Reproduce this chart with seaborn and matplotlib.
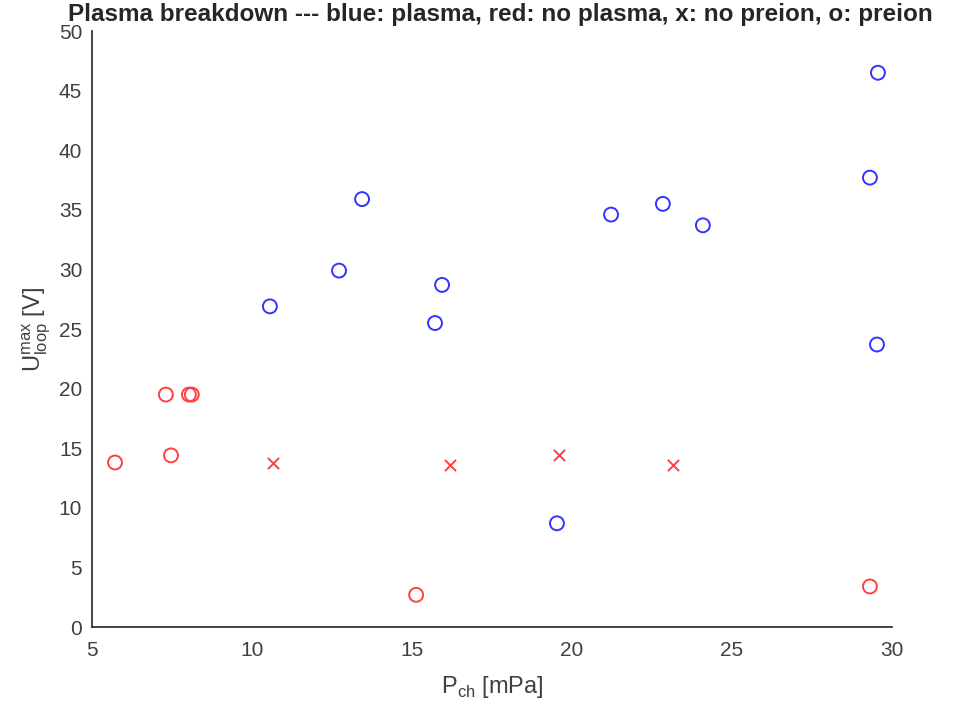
import numpy as np
import pandas as pd
import matplotlib
matplotlib.use("Agg")
import matplotlib.pyplot as plt
import seaborn as sns

# plasma, preion (blue circles)
blue_o_x = [29.56, 29.53, 29.31, 13.44, 12.72, 10.56, 15.94, 15.72, 21.22, 22.84, 24.09, 19.53]
blue_o_y = [46.5, 23.7, 37.7, 35.9, 29.9, 26.9, 28.7, 25.5, 34.6, 35.5, 33.7, 8.7]
# no plasma, preion (red circles)
red_o_x = [5.72, 7.31, 7.47, 8.03, 8.12, 15.13, 29.31]
red_o_y = [13.8, 19.5, 14.4, 19.5, 19.5, 2.7, 3.4]
# no plasma, no preion (red crosses)
red_x_x = [10.66, 16.19, 19.59, 23.16]
red_x_y = [13.8, 13.6, 14.4, 13.6]

sns.set_style("white")
plt.rcParams['font.family'] = ['Liberation Sans', 'DejaVu Sans']
plt.rcParams['mathtext.fontset'] = 'custom'
plt.rcParams['mathtext.rm'] = 'Liberation Sans'

fig = plt.figure(figsize=(9.66, 7.13), dpi=100)
ax = fig.add_axes([0.0952, 0.1206, 0.8282, 0.8359])

dark = '#262626'
sns.scatterplot(x=blue_o_x, y=blue_o_y, marker='o', s=100, facecolors='none',
                edgecolor=(0.2, 0.2, 1.0), linewidth=1.4, ax=ax)
sns.scatterplot(x=red_o_x, y=red_o_y, marker='o', s=100, facecolors='none',
                edgecolor=(1.0, 0.25, 0.25), linewidth=1.4, ax=ax)
sns.scatterplot(x=red_x_x, y=red_x_y, marker='x', s=65, color=(1.0, 0.25, 0.25),
                linewidth=1.4, ax=ax)

ax.set_xlim(5, 30)
ax.set_ylim(0, 50)
ax.set_xticks(np.arange(5, 31, 5))
ax.set_yticks(np.arange(0, 51, 5))
for side in ['top', 'right']:
    ax.spines[side].set_visible(False)
for side in ['left', 'bottom']:
    ax.spines[side].set_color(dark)
    ax.spines[side].set_linewidth(1.2)
ax.tick_params(direction='in', length=8, width=1.2, color=dark, labelcolor='#404040',
               labelsize=15)
ax.tick_params(axis='x', pad=10)
ax.tick_params(axis='y', pad=7)

ax.set_xlabel(r'P$_{\mathrm{ch}}$ [mPa]', fontsize=17, color='#404040', labelpad=10)
ax.set_ylabel(r'U$_{\mathrm{loop}}^{\mathrm{max}}$ [V]', fontsize=17, color='#404040', labelpad=4)
ax.set_title('Plasma breakdown --- blue: plasma, red: no plasma, x: no preion, o: preion',
             fontsize=17.5, fontweight='bold', pad=7, x=0.51)

fig.savefig('out.png', dpi=100)
